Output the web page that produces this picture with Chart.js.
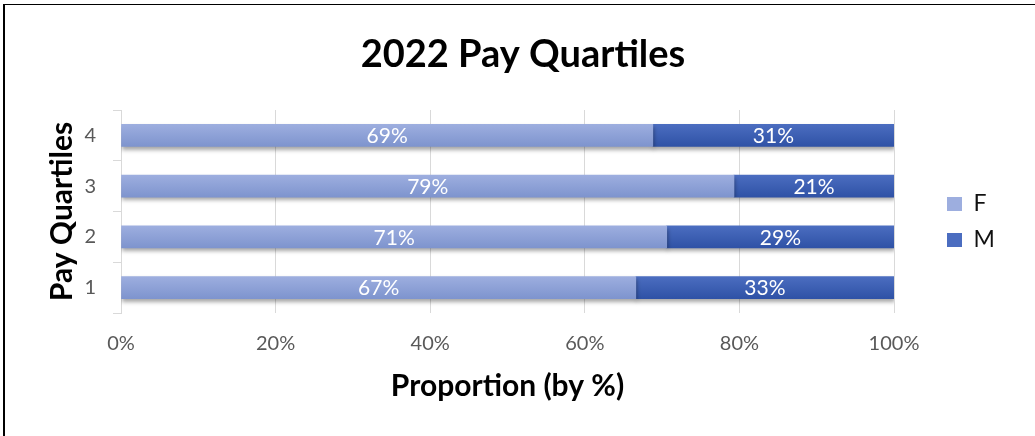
<!DOCTYPE html>
<html>
<head>
<meta charset="utf-8">
<script src="https://cdn.jsdelivr.net/npm/chart.js@4/dist/chart.umd.min.js"></script>
<style>
  html, body { margin: 0; padding: 0; background: #fff; overflow: hidden; }
  #wrap { position: relative; width: 1035px; height: 436px; }
  canvas { display: block; }
  #frame { position: absolute; left: 3px; top: 4px; width: 1200px; height: 600px;
           border-left: 2px solid #000; border-top: 1px solid #000; pointer-events: none; }
</style>
</head>
<body>
<div id="wrap">
  <canvas id="c" width="1035" height="436"></canvas>
  <div id="frame"></div>
</div>
<script>
const categories = ['1', '2', '3', '4'];
const femaleValues = [66.6, 70.6, 79.3, 68.8];
const maleValues = [33.4, 29.4, 20.7, 31.2];
const xTickValues = [0, 20, 40, 60, 80, 100];
const seriesNames = ['F', 'M'];

const FONT = 'Lato, "Open Sans", sans-serif';
const BAR_H = 22;

function barFill(top, bottom, solid) {
  return (c) => {
    if (c.type !== 'data') return solid;
    const y = c.chart.scales.y;
    if (!y) return solid;
    const yc = y.getPixelForValue(c.dataIndex);
    if (!isFinite(yc)) return solid;
    const g = c.chart.ctx.createLinearGradient(0, yc - BAR_H / 2, 0, yc + BAR_H / 2);
    g.addColorStop(0, top);
    g.addColorStop(1, bottom);
    return g;
  };
}

const shadowPlugin = {
  id: 'barShadow',
  afterLayout(chart) {
    const lg = chart.legend;
    if (lg) { lg.left += 40; lg.right += 40; lg.top += 4; lg.bottom += 4; }
  },
  beforeDatasetsDraw(chart) {
    const ctx = chart.ctx;
    ctx.save();
    ctx.shadowColor = 'rgba(0,0,0,0.35)';
    ctx.shadowBlur = 4;
    ctx.shadowOffsetX = 1;
    ctx.shadowOffsetY = 3;
  },
  afterDatasetsDraw(chart) {
    const ctx = chart.ctx;
    ctx.restore();
    ctx.save();
    ctx.fillStyle = '#ffffff';
    ctx.font = '21px ' + FONT;
    ctx.textAlign = 'center';
    ctx.textBaseline = 'middle';
    chart.data.datasets.forEach((ds, di) => {
      const meta = chart.getDatasetMeta(di);
      meta.data.forEach((bar, i) => {
        const cx = (bar.x + bar.base) / 2;
        ctx.fillText(Math.round(ds.data[i]) + '%', cx, bar.y + 1);
      });
    });
    ctx.restore();
  }
};

new Chart(document.getElementById('c'), {
  type: 'bar',
  data: {
    labels: categories,
    datasets: [
      { label: seriesNames[0], data: femaleValues, backgroundColor: barFill('#9DAEDF', '#7E94CE', '#8EA2D7'), barThickness: BAR_H, borderWidth: 0 },
      { label: seriesNames[1], data: maleValues, backgroundColor: barFill('#4B6DC0', '#2F52A6', '#3D5FB3'), barThickness: BAR_H, borderWidth: 0 }
    ]
  },
  options: {
    indexAxis: 'y',
    responsive: false,
    animation: false,
    devicePixelRatio: 1,
    layout: { padding: { top: 32, left: 44, right: 33, bottom: 32 } },
    plugins: {
      title: {
        display: true,
        text: '2022 Pay Quartiles',
        color: '#000',
        font: { family: FONT, size: 38, weight: 'bold' },
        padding: { top: 0, bottom: 32.4 }
      },
      legend: {
        display: true,
        position: 'right',
        labels: {
          boxWidth: 15, boxHeight: 14, padding: 13,
          color: '#111',
          font: { family: FONT, size: 23 }
        }
      },
      tooltip: { enabled: false }
    },
    scales: {
      x: {
        stacked: true,
        min: 0, max: 100,
        afterBuildTicks(scale) { scale.ticks = xTickValues.map(v => ({ value: v })); },
        afterFit(scale) { scale.height = 91; scale.paddingRight = 141; },
        ticks: {
          color: '#595959',
          font: { family: FONT, size: 20 },
          padding: 19,
          callback: v => v + '%'
        },
        grid: { color: '#d9d9d9', drawTicks: false },
        border: { display: false },
        title: {
          display: true,
          text: 'Proportion (by %)',
          color: '#000',
          font: { family: FONT, size: 30, weight: 'bold' },
          padding: { top: 0, bottom: 0 }
        }
      },
      y: {
        stacked: true,
        reverse: true,
        afterFit(scale) { scale.width = 77; },
        ticks: {
          color: '#595959',
          font: { family: FONT, size: 20 },
          padding: 17
        },
        grid: { offset: true, drawOnChartArea: false, drawTicks: true, tickLength: 8, color: '#d9d9d9' },
        border: { display: true, color: '#d9d9d9' },
        title: {
          display: true,
          text: 'Pay Quartiles',
          color: '#000',
          font: { family: FONT, size: 30, weight: 'bold' },
          padding: { top: 0, bottom: 0 }
        }
      }
    }
  },
  plugins: [shadowPlugin]
});
</script>
</body>
</html>
